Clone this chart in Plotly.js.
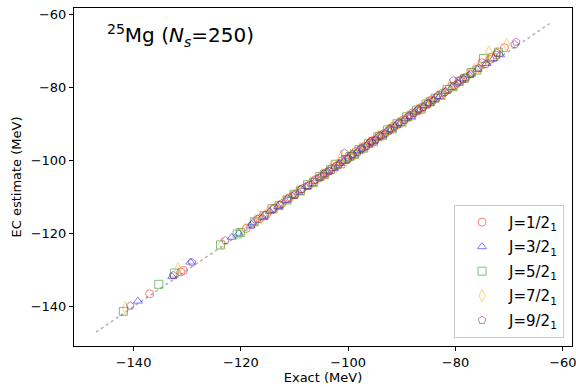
<!DOCTYPE html>
<html>
<head>
<meta charset="utf-8">
<script src="https://cdn.plot.ly/plotly-3.0.1.min.js"></script>
<style>html,body{margin:0;padding:0;background:#fff;}#chart{width:576px;height:387px;}</style>
</head>
<body>
<div id="chart"></div>
<script>
// Exact vs EC estimate (MeV) for each state
const seriesNames = ["J=1/2<sub>1</sub>", "J=3/2<sub>1</sub>", "J=5/2<sub>1</sub>", "J=7/2<sub>1</sub>", "J=9/2<sub>1</sub>"];

const exactJ1 = [-137.0,-131.2,-130.7,-119.0,-116.5,-115.2,-113.8,-112.4,-111.0,-109.9,-108.6,-107.3,-106.1,-105.0,-104.2,-103.6,-103.1,-102.0,-101.2,-100.3,-99.4,-98.6,-97.7,-96.9,-96.0,-95.6,-95.1,-94.3,-93.4,-92.5,-91.6,-90.8,-89.7,-88.9,-88.0,-87.1,-86.2,-85.3,-84.5,-83.6,-82.4,-81.3,-80.2,-79.0,-78.1,-76.9,-75.1,-73.6,-72.4,-70.9];
const ecJ1    = [-136.5,-130.5,-130.1,-118.6,-115.9,-114.7,-113.0,-111.8,-110.2,-109.3,-107.7,-106.8,-105.2,-104.4,-103.3,-102.9,-102.2,-101.4,-100.1,-99.6,-98.8,-97.5,-97.0,-96.1,-95.3,-94.6,-94.4,-93.2,-92.7,-91.9,-90.6,-90.1,-88.8,-88.2,-86.9,-86.4,-85.3,-84.6,-83.4,-82.8,-81.5,-80.4,-79.5,-77.9,-77.2,-75.8,-73.2,-72.3,-71.1,-69.1];

const exactJ3 = [-139.2,-132.8,-129.4,-121.7,-120.4,-118.2,-117.8,-116.0,-114.6,-113.1,-111.7,-110.5,-109.2,-108.0,-106.8,-105.7,-104.6,-103.9,-102.7,-101.6,-100.8,-99.9,-99.0,-98.1,-97.3,-96.4,-95.4,-94.7,-93.8,-92.9,-92.0,-91.1,-90.3,-89.3,-88.4,-87.5,-86.7,-85.8,-84.9,-84.0,-83.0,-81.9,-80.7,-79.5,-78.5,-77.4,-75.9,-74.2,-72.9,-71.7];
const ecJ3    = [-138.5,-131.8,-127.8,-121.0,-119.9,-117.9,-117.0,-115.5,-113.9,-112.6,-111.0,-109.6,-108.7,-107.1,-106.3,-104.8,-104.0,-102.9,-102.2,-100.8,-100.2,-99.0,-98.5,-97.2,-96.8,-95.5,-94.9,-93.8,-93.3,-92.0,-91.5,-90.3,-89.8,-88.4,-87.9,-86.6,-86.1,-84.9,-84.3,-83.2,-82.5,-81.0,-80.0,-78.7,-77.6,-76.6,-75.0,-73.4,-72.0,-71.0];

const exactJ5 = [-141.9,-135.3,-132.4,-123.8,-120.7,-120.1,-117.5,-115.7,-114.2,-112.9,-111.4,-110.1,-108.9,-107.6,-106.5,-105.3,-104.4,-103.3,-102.4,-101.4,-100.5,-99.7,-98.8,-98.0,-97.1,-96.2,-95.3,-94.5,-93.6,-92.7,-91.8,-90.9,-90.0,-89.1,-88.2,-87.3,-86.4,-85.5,-84.7,-83.8,-82.7,-81.6,-80.5,-79.3,-78.3,-77.1,-76.0,-74.8,-73.1,-72.0];
const ecJ5    = [-141.3,-133.9,-130.8,-123.1,-120.1,-119.7,-116.8,-115.1,-113.2,-112.3,-110.8,-109.2,-108.3,-106.6,-106.0,-104.3,-103.8,-102.5,-101.0,-100.9,-99.7,-98.9,-98.3,-97.0,-96.6,-95.3,-94.8,-93.5,-93.1,-91.6,-91.3,-89.9,-89.5,-88.0,-87.7,-86.2,-85.9,-84.5,-83.9,-82.9,-82.1,-80.5,-79.8,-78.3,-77.5,-75.9,-75.2,-72.0,-71.8,-70.3];

const exactJ7 = [-141.5,-131.7,-123.5,-119.2,-117.3,-116.2,-114.9,-113.4,-112.1,-110.8,-109.5,-108.3,-107.0,-105.9,-104.9,-104.0,-103.0,-102.2,-101.3,-100.4,-99.5,-98.7,-97.8,-97.0,-96.1,-95.2,-94.4,-93.5,-92.6,-91.7,-90.7,-89.9,-89.0,-88.1,-87.2,-86.3,-85.4,-84.6,-83.4,-82.2,-81.1,-79.9,-78.8,-77.7,-76.5,-75.5,-74.0,-73.8,-72.2,-70.5];
const ecJ7    = [-140.4,-129.7,-122.8,-118.8,-116.4,-115.7,-114.0,-112.9,-111.3,-110.2,-108.6,-107.8,-106.1,-105.4,-103.9,-103.5,-101.6,-101.6,-99.0,-99.9,-98.6,-98.1,-96.8,-96.5,-95.2,-94.7,-93.3,-93.0,-91.7,-91.1,-89.7,-89.3,-88.0,-87.5,-86.2,-85.7,-84.4,-84.0,-82.5,-81.7,-79.8,-79.2,-77.9,-76.8,-75.0,-74.6,-72.3,-70.3,-70.6,-68.2];

const exactJ9 = [-140.6,-132.6,-129.1,-122.9,-118.0,-116.9,-115.5,-114.0,-112.7,-111.3,-110.0,-108.8,-107.5,-106.3,-105.4,-104.5,-103.5,-102.5,-101.7,-100.7,-100.0,-99.2,-98.3,-97.5,-96.6,-95.8,-94.9,-94.0,-93.1,-92.2,-91.4,-90.5,-89.5,-88.6,-87.8,-86.9,-86.0,-85.1,-84.2,-83.3,-82.0,-80.4,-79.7,-78.6,-77.2,-75.7,-74.4,-72.3,-69.0,-68.7];
const ecJ9    = [-139.8,-131.4,-127.9,-121.9,-117.6,-116.0,-115.0,-113.3,-112.1,-110.5,-109.5,-107.9,-107.0,-105.5,-104.8,-103.6,-102.9,-101.7,-101.1,-97.9,-99.5,-98.3,-97.8,-96.6,-96.0,-94.8,-94.3,-93.2,-92.6,-91.3,-90.8,-89.6,-89.0,-87.7,-87.1,-85.9,-85.4,-84.2,-83.6,-82.2,-81.3,-78.0,-78.9,-77.6,-76.4,-74.6,-73.6,-70.5,-68.2,-67.5];

// y = x reference line end points
const parityLine = [-147, -62.5];
const tickValues = [-140, -120, -100, -80, -60];

const xs = [exactJ1, exactJ3, exactJ5, exactJ7, exactJ9];
const ys = [ecJ1, ecJ3, ecJ5, ecJ7, ecJ9];
const colors = ["rgb(255,0,0)", "rgb(0,0,255)", "rgb(0,128,0)", "rgb(255,165,0)", "rgb(128,0,128)"];
const symbols = ["circle-open", "triangle-up-open", "square-open", "diamond-tall-open", "pentagon-open"];
const sizes = [8, 8, 8, 9, 8];

const traces = [{
  x: parityLine, y: parityLine, mode: "lines", showlegend: false, hoverinfo: "skip",
  line: {color: "rgba(128,128,128,0.6)", width: 1.5, dash: "dot"}
}];
for (let i = 0; i < 5; i++) {
  traces.push({
    x: xs[i], y: ys[i], name: seriesNames[i], mode: "markers", type: "scatter",
    legendgroup: "g" + i,
    opacity: 0.5,
    marker: {symbol: symbols[i], size: sizes[i], color: colors[i], line: {width: 1, color: colors[i]}}
  });
}

const axisCommon = {
  showgrid: false, zeroline: false, showline: true, linecolor: "black", linewidth: 1, mirror: true,
  ticks: "outside", ticklen: 4, tickwidth: 1, tickcolor: "black",
  tickfont: {size: 13, color: "black"}, tickvals: tickValues,
  ticklabeloverflow: "allow",
  automargin: false
};

const layout = {
  width: 576, height: 387,
  margin: {l: 74, r: 4, t: 8, b: 41},
  paper_bgcolor: "white", plot_bgcolor: "white",
  font: {family: "DejaVu Sans", color: "black"},
  xaxis: Object.assign({}, axisCommon, {range: [-151.1, -58.3], title: {text: "Exact (MeV)", font: {size: 13}, standoff: 4}}),
  yaxis: Object.assign({}, axisCommon, {range: [-150.8, -58.2], title: {text: "EC estimate (MeV)", font: {size: 13}, standoff: 6}}),
  showlegend: true,
  legend: {
    x: 0.984, y: 0.024, xanchor: "right", yanchor: "bottom",
    bgcolor: "rgba(255,255,255,0.8)", bordercolor: "#cccccc", borderwidth: 1,
    font: {size: 15}, tracegroupgap: 2, itemwidth: 44
  },
  annotations: [{
    text: "<sup>25</sup>Mg (<i>N<sub>s</sub></i>=250)", xref: "paper", yref: "paper",
    x: 0.062, y: 0.92, xanchor: "left", yanchor: "middle", showarrow: false,
    font: {size: 20, color: "black"}
  }]
};

Plotly.newPlot("chart", traces, layout, {displayModeBar: false, staticPlot: true});
</script>
</body>
</html>
